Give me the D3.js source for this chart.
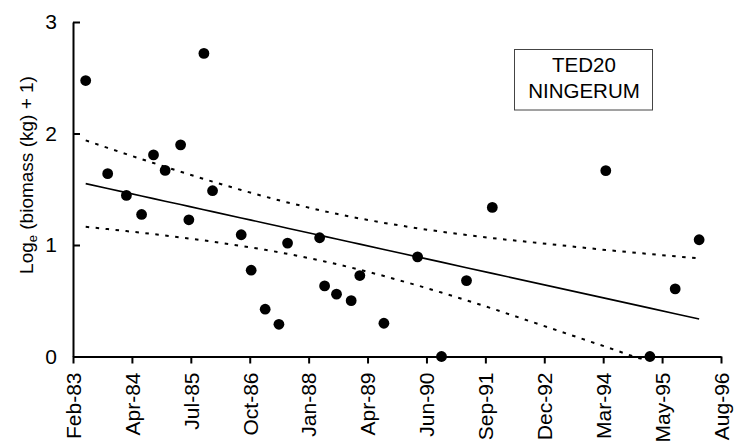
<!DOCTYPE html>
<html>
<head>
<meta charset="utf-8">
<script src="https://cdn.jsdelivr.net/npm/d3@7/dist/d3.min.js"></script>
<style>
  html, body { margin: 0; padding: 0; background: #fff; }
  svg { display: block; font-family: "Liberation Sans", Arial, sans-serif; }
</style>
</head>
<body>
<svg id="chart" width="734" height="446"></svg>
<script>
// Sampling dates and log-transformed biomass, site TED20 (Ningerum)
const sampleDates = [
  "1983-05-10", "1983-10-25", "1984-03-16", "1984-07-10", "1984-10-09",
  "1985-01-06", "1985-05-04", "1985-07-06", "1985-10-29", "1986-01-03",
  "1986-08-10", "1986-10-25", "1987-02-09", "1987-05-25", "1987-07-30",
  "1988-03-31", "1988-05-08", "1988-08-07", "1988-11-27", "1989-02-01",
  "1989-08-04", "1990-04-18", "1990-10-18", "1991-04-27", "1991-11-10",
  "1994-03-26", "1995-02-26", "1995-09-07", "1996-03-08"
];
const logBiomass = [
  2.475, 1.640, 1.445, 1.274, 1.808,
  1.669, 1.898, 1.226, 2.718, 1.487,
  1.092, 0.774, 0.424, 0.289, 1.017,
  1.065, 0.633, 0.559, 0.501, 0.726,
  0.298, 0.894, 0.000, 0.681, 1.337,
  1.667, 0.000, 0.606, 1.047
];

// Axis settings
const xStartDate = "1983-02-02";
const xTickStepDays = 450;
const xTickLabels = ["Feb-83", "Apr-84", "Jul-85", "Oct-86", "Jan-88", "Apr-89",
                     "Jun-90", "Sep-91", "Dec-92", "Mar-94", "May-95", "Aug-96"];
const yTicks = [0, 1, 2, 3];
const legendLines = ["TED20", "NINGERUM"];
const tCrit = 2.052; // two-sided 95%, 27 degrees of freedom

const DAY = 86400000;
const parse = d3.utcParse("%Y-%m-%d");
const start = parse(xStartDate);
const tickDates = xTickLabels.map((_, i) => new Date(+start + i * xTickStepDays * DAY));

const plot = { left: 73, right: 721, top: 22, bottom: 356.5 };

const x = d3.scaleUtc()
  .domain([tickDates[0], tickDates[tickDates.length - 1]])
  .range([plot.left, plot.right]);
const y = d3.scaleLinear().domain([0, 3]).range([plot.bottom, plot.top]);

const data = sampleDates.map((d, i) => ({ date: parse(d), v: logBiomass[i] }));

// Least-squares trend with 95% confidence band for the mean
const xs = data.map(d => +d.date / DAY);
const n = data.length;
const mx = d3.mean(xs), my = d3.mean(data, d => d.v);
let sxx = 0, sxy = 0;
xs.forEach((xv, i) => { sxx += (xv - mx) ** 2; sxy += (xv - mx) * (data[i].v - my); });
const slope = sxy / sxx, intercept = my - slope * mx;
let sse = 0;
xs.forEach((xv, i) => { sse += (data[i].v - (intercept + slope * xv)) ** 2; });
const se = Math.sqrt(sse / (n - 2));
const fit = data.map((d, i) => {
  const f = intercept + slope * xs[i];
  const h = tCrit * se * Math.sqrt(1 / n + (xs[i] - mx) ** 2 / sxx);
  return { date: d.date, f, lo: f - h, hi: f + h };
});

const svg = d3.select("#chart");

svg.append("defs").append("clipPath").attr("id", "plotClip")
  .append("rect")
  .attr("x", plot.left).attr("y", plot.top)
  .attr("width", plot.right - plot.left).attr("height", plot.bottom - plot.top + 3);

const lines = svg.append("g").attr("clip-path", "url(#plotClip)");
const lineOf = key => d3.line().x(d => x(d.date)).y(d => y(d[key]));

lines.append("path").datum(fit)
  .attr("d", lineOf("f"))
  .attr("fill", "none").attr("stroke", "#000").attr("stroke-width", 1.6);

["hi", "lo"].forEach(k => {
  lines.append("path").datum(fit)
    .attr("d", lineOf(k))
    .attr("fill", "none").attr("stroke", "#000").attr("stroke-width", 2)
    .attr("stroke-dasharray", "3.5,6.5");
});

// Y axis: ticks point into the plot
const yAxis = d3.axisLeft(y).tickValues(yTicks).tickFormat(d3.format("d"))
  .tickSize(-7).tickSizeOuter(0).tickPadding(16);
const gy = svg.append("g").attr("transform", `translate(${plot.left},0)`).call(yAxis);
gy.selectAll("text").attr("font-size", 21).attr("fill", "#000")
  .attr("font-family", "Liberation Sans, Arial, sans-serif");

// X axis: ticks below, labels rotated
const xAxis = d3.axisBottom(x).tickValues(tickDates)
  .tickFormat((d, i) => xTickLabels[i]).tickSize(7).tickSizeOuter(0);
const gx = svg.append("g").attr("transform", `translate(0,${plot.bottom})`).call(xAxis);
gx.selectAll("text")
  .attr("font-size", 21).attr("fill", "#000")
  .attr("font-family", "Liberation Sans, Arial, sans-serif")
  .attr("text-anchor", "end")
  .attr("transform", "rotate(-90)")
  .attr("x", -16).attr("y", 0).attr("dy", "0.35em");

[gx, gy].forEach(g => {
  g.selectAll(".domain, .tick line").attr("stroke", "#000").attr("stroke-width", 2);
});

// Observations
svg.append("g").selectAll("circle").data(data).join("circle")
  .attr("cx", d => x(d.date)).attr("cy", d => y(d.v))
  .attr("r", 5.4).attr("fill", "#000");

// Y axis title
const title = svg.append("text")
  .attr("transform", "translate(33,175) rotate(-90)")
  .attr("text-anchor", "middle").attr("font-size", 19).attr("fill", "#000");
title.append("tspan").text("Log");
title.append("tspan").attr("font-size", 13).attr("dy", 4).text("e");
title.append("tspan").attr("dy", -4).text(" (biomass (kg) + 1)");

// Site label box
const box = svg.append("g");
box.append("rect").attr("x", 514.5).attr("y", 49.5).attr("width", 138).attr("height", 60.5)
  .attr("fill", "#fff").attr("stroke", "#444").attr("stroke-width", 1);
box.selectAll("text").data(legendLines).join("text")
  .attr("x", 584).attr("y", (d, i) => 71.5 + i * 26.8)
  .attr("text-anchor", "middle").attr("font-size", 20.5).attr("fill", "#000")
  .text(d => d);
</script>
</body>
</html>
